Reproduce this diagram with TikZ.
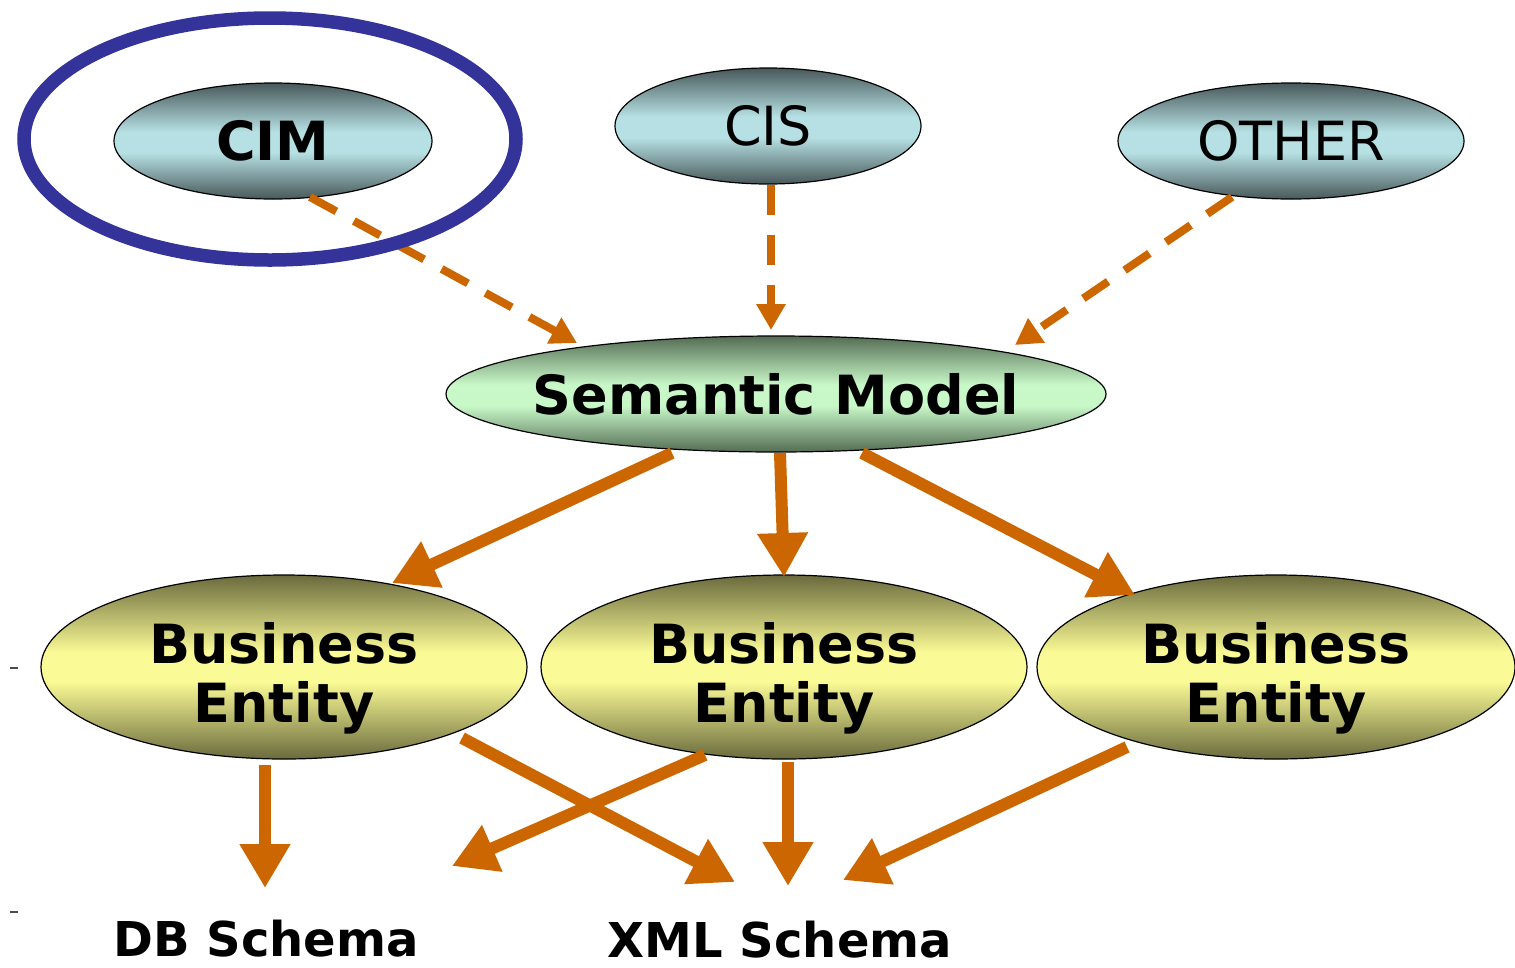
\documentclass[tikz,border=0pt]{standalone}
\usepackage{fontspec}
\setmainfont{DejaVu Sans}
\usetikzlibrary{arrows.meta,calc,shapes.geometric}
\definecolor{arr}{RGB}{204,102,0}
\definecolor{ringblue}{RGB}{51,51,153}
\definecolor{cyandark}{RGB}{72,88,90}
\definecolor{cyanlight}{RGB}{182,224,227}
\definecolor{greendark}{RGB}{84,108,84}
\definecolor{greenlight}{RGB}{200,248,200}
\definecolor{yeldark}{RGB}{106,106,62}
\definecolor{yellight}{RGB}{250,250,150}
\pgfdeclareverticalshading{cyanshade}{100bp}{color(0bp)=(cyandark); color(25bp)=(cyandark); color(45bp)=(cyanlight); color(54bp)=(cyanlight); color(75bp)=(cyandark); color(100bp)=(cyandark)}
\pgfdeclareverticalshading{greenshade}{100bp}{color(0bp)=(greendark); color(25bp)=(greendark); color(45bp)=(greenlight); color(54bp)=(greenlight); color(75bp)=(greendark); color(100bp)=(greendark)}
\pgfdeclareverticalshading{yelshade}{100bp}{color(0bp)=(yeldark); color(25bp)=(yeldark); color(46bp)=(yellight); color(54bp)=(yellight); color(75bp)=(yeldark); color(100bp)=(yeldark)}
\tikzset{
  oval/.style={ellipse, draw=black, line width=1.2pt, inner sep=0pt},
  srcoval/.style={oval, shading=cyanshade, minimum height=116pt},
  semoval/.style={oval, shading=greenshade, minimum width=660pt, minimum height=116pt},
  entoval/.style={oval, shading=yelshade, minimum width=486pt, minimum height=184pt},
  boldtxt/.style={font=\fontsize{54}{59}\selectfont\bfseries, align=center},
  regtxt/.style={font=\fontsize{54}{59}\selectfont},
  schematxt/.style={font=\fontsize{48}{52}\selectfont\bfseries},
  dasharrow/.style={draw=arr, line width=8pt, dash pattern=on 30pt off 20pt, -{Triangle[length=26pt,width=28pt]}},
  solidarrow/.style={draw=arr, line width=12pt, -{Triangle[length=44pt,width=48pt]}},
  ring/.style={draw=ringblue, line width=13.5pt}
}
\begin{document}
\begin{tikzpicture}[x=1pt,y=-1pt]
\useasboundingbox (0,0) rectangle (1515,967);
% source ovals
\node[srcoval, minimum width=318pt, label={[boldtxt]center:CIM}] (cim) at (273,141) {};
\node[srcoval, minimum width=306pt, label={[regtxt]center:CIS}] (cis) at (768,126) {};
\node[srcoval, minimum width=346pt, label={[regtxt]center:OTHER}] (oth) at (1291,141) {};
% semantic model
\node[semoval, label={[boldtxt]center:Semantic Model}] (sm) at (776,394) {};
% business entities
\node[entoval, label={[boldtxt, yshift=-11pt]center:Business\\Entity}] (be1) at (284,667) {};
\node[entoval, label={[boldtxt, yshift=-11pt]center:Business\\Entity}] (be2) at (784,667) {};
\node[entoval, minimum width=478pt, label={[boldtxt, yshift=-11pt]center:Business\\Entity}] (be3) at (1276,667) {};
% schemas
\node[schematxt, inner sep=0pt] (db) at (266,939) {DB Schema};
\node[schematxt, inner sep=0pt] (xml) at (780,940) {XML Schema};
% dashed arrows
\draw[dasharrow] ($(cim)+(37,56)$) -- ($(sm)+(-199,-51)$);
\draw[dasharrow] ($(cis)+(3,59)$) -- ($(sm)+(-5,-64)$);
\draw[dasharrow] ($(oth)+(-59,56)$) -- ($(sm)+(239,-49)$);
% solid arrows
\draw[solidarrow] ($(sm)+(-104,59)$) -- ($(be1)+(108,-84)$);
\draw[solidarrow] ($(sm)+(4,59)$) -- ($(be2)+(0,-90)$);
\draw[solidarrow] ($(sm)+(86,59)$) -- ($(be3)+(-141,-72)$);
\draw[solidarrow] ($(be1)+(-19,98)$) -- ($(db)+(-1,-51)$);
\draw[solidarrow] ($(be1)+(178,71)$) -- ($(xml)+(-45,-58)$);
\draw[solidarrow] ($(be2)+(-79,88)$) -- ($(db)+(186,-73)$);
\draw[solidarrow] ($(be2)+(4,95)$) -- ($(xml)+(8,-54)$);
\draw[solidarrow] ($(be3)+(-149,80)$) -- ($(xml)+(63,-60)$);
% highlight ring
\draw[ring] (cim.center) ++(-3,-2) ellipse [x radius=246, y radius=121];
% small marks at left margin
\draw[line width=1.5pt, black!70] (10,668) -- (18,668);
\draw[line width=1.5pt, black!70] (10,912) -- (18,912);
\end{tikzpicture}
\end{document}
